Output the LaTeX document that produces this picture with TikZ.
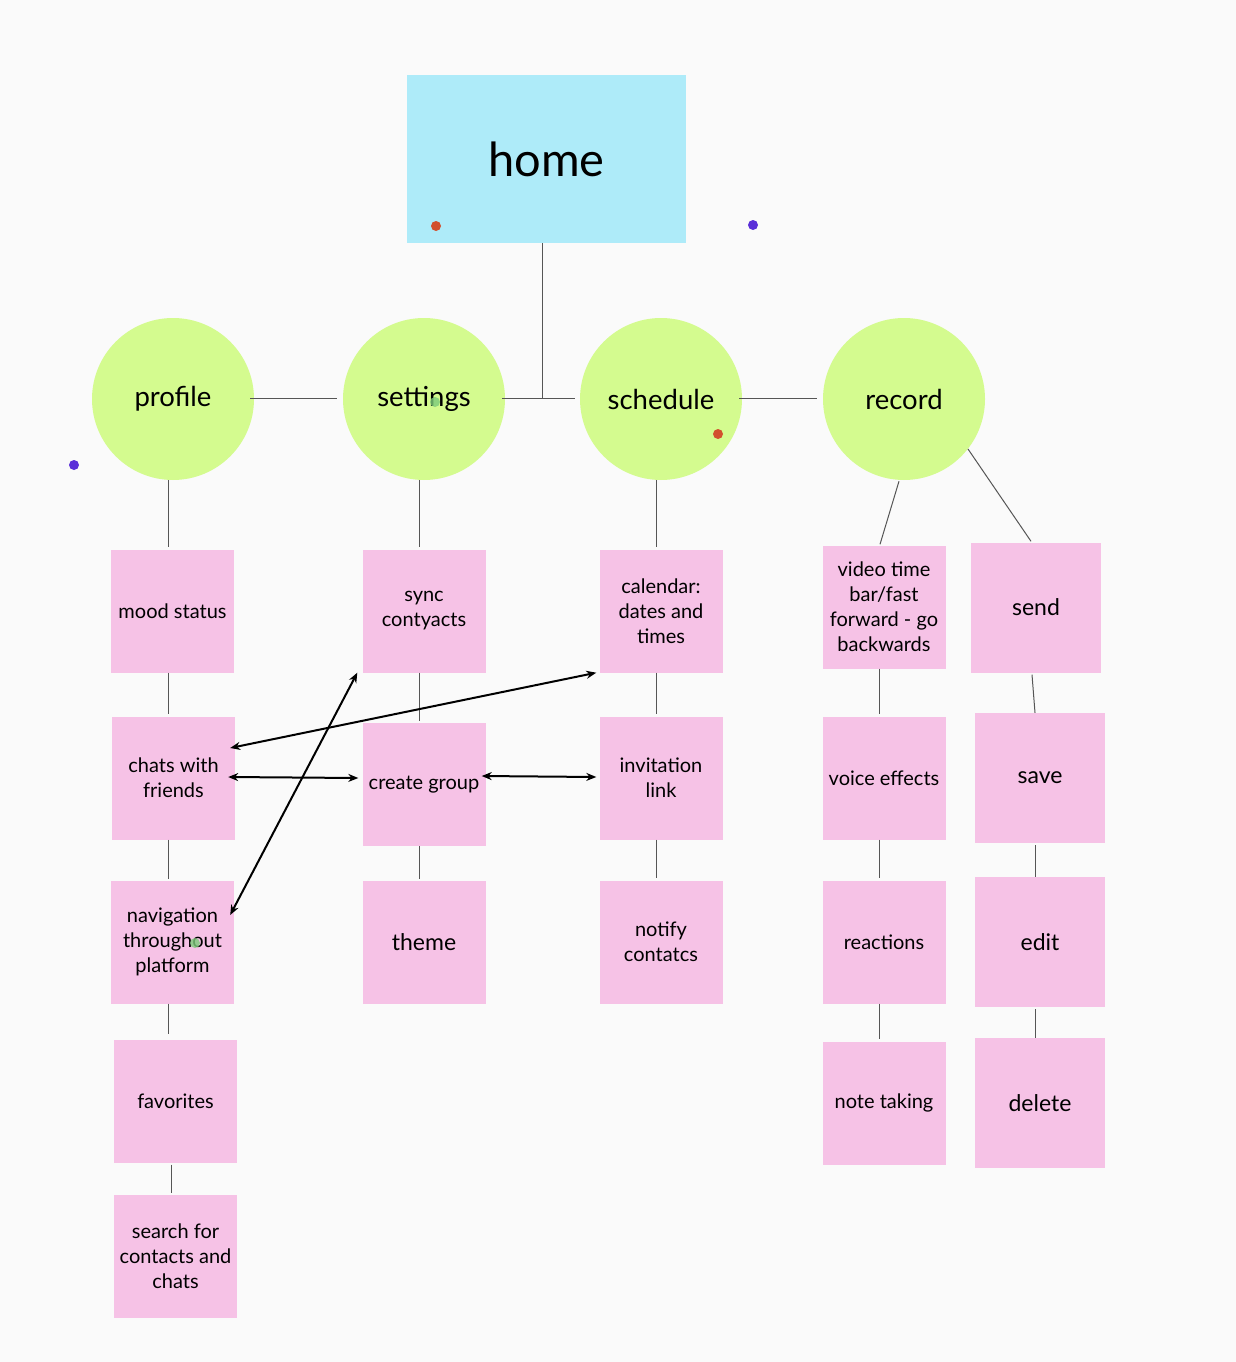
\documentclass[tikz,border=0pt]{standalone}
\usepackage{fontspec}
\setmainfont{Lato}
\usetikzlibrary{arrows.meta,calc}
\definecolor{bgc}{HTML}{FAFAFA}
\definecolor{homec}{HTML}{AEEBF9}
\definecolor{greenc}{HTML}{D4FB8F}
\definecolor{pinkc}{HTML}{F6C2E6}
\definecolor{linec}{HTML}{555555}
\definecolor{redc}{HTML}{D2502E}
\definecolor{bluec}{HTML}{5A2FD8}
\definecolor{dotg}{HTML}{7CCB7A}
\tikzset{
  homebox/.style={fill=homec, draw=none, minimum width=279pt, minimum height=168pt, inner sep=0pt, font=\fontsize{47}{52}\selectfont},
  cat/.style={circle, fill=greenc, draw=none, minimum size=162pt, inner sep=0pt, font=\fontsize{27.5}{32}\selectfont},
  item/.style={fill=pinkc, draw=none, minimum width=123pt, minimum height=123pt, inner sep=0pt, align=center, font=\fontsize{20}{25}\selectfont},
  bigtxt/.style={font=\fontsize{23}{27}\selectfont},
  itemw/.style={item, minimum width=130pt, minimum height=130pt},
  link/.style={draw=linec, line width=1pt},
  biarrow/.style={draw=black, line width=2pt, {Stealth[length=10pt,width=8pt]}-{Stealth[length=10pt,width=8pt]}},
  cdot/.style={circle, inner sep=0pt, minimum size=10pt},
}
\begin{document}
\begin{tikzpicture}[x=1pt,y=-1pt]
\fill[bgc] (0,0) rectangle (1236,1362);
\useasboundingbox (0,0) rectangle (1236,1362);

% home
\node[homebox] (home) at (546.5,159) {home};

% categories
\node[cat] (profile) at (173,399) {profile};
\node[cat] (settings) at (424,399) {settings};
\node[cat] (schedule) at (661,399) {schedule};
\node[cat] (record) at (904,399) {record};

% profile column
\node[item] (mood) at (172.5,611) {mood status};
\node[item] (chats) at (173.5,778) {chats with\\friends};
\node[item] (nav) at (172.5,942) {navigation\\throughout\\platform};
\node[item] (fav) at (175.5,1101) {favorites};
\node[item] (search) at (175.5,1256) {search for\\contacts and\\chats};

% settings column
\node[item] (sync) at (424,611) {sync\\contyacts};
\node[item] (group) at (424,784.5) {create group};
\node[item, bigtxt] (theme) at (424,942) {theme};

% schedule column
\node[item] (cal) at (661,611) {calendar:\\dates and\\times};
\node[item] (invite) at (661,778) {invitation\\link};
\node[item] (notify) at (661,942) {notify\\contatcs};

% record column
\node[item] (video) at (884,607) {video time\\bar/fast\\forward - go\\backwards};
\node[item] (voice) at (884,778) {voice effects};
\node[item] (react) at (884,942) {reactions};
\node[item] (note) at (884,1103) {note taking};

\node[itemw, bigtxt] (send) at (1036,607.5) {send};
\node[itemw, bigtxt] (save) at (1040,778) {save};
\node[itemw, bigtxt] (edit) at (1040,942) {edit};
\node[itemw, bigtxt] (delete) at (1040,1103) {delete};

% tree connectors
\coordinate (junc) at (542,398);
\draw[link] ($(home.south)+(-4.5,0)$) -- (junc);
\draw[link] ($(profile.east)+(-4,-1)$) -- ($(settings.west)+(-6,-1)$);
\draw[link] ($(settings.east)+(-3,-1)$) -- ($(schedule.west)+(-5,-1)$);
\draw[link] ($(schedule.east)+(-3,-1)$) -- ($(record.west)+(-6,-1)$);

\draw[link] ($(profile.south)+(-5,0)$) -- ($(mood.north)+(-4.5,-2)$);
\draw[link] ($(mood.south)+(-4.5,0)$) -- ($(chats.north)+(-5.5,-2)$);
\draw[link] ($(chats.south)+(-5.5,0)$) -- ($(nav.north)+(-4.5,-1)$);
\draw[link] ($(nav.south)+(-4.5,0)$) -- ($(fav.north)+(-7.5,-5)$);
\draw[link] ($(fav.south)+(-4.5,2)$) -- ($(search.north)+(-4.5,-1)$);

\draw[link] ($(settings.south)+(-5,0)$) -- ($(sync.north)+(-5,-2)$);
\draw[link] ($(sync.south)+(-5,0)$) -- ($(group.north)+(-5,-2)$);
\draw[link] ($(group.south)+(-5,0)$) -- ($(theme.north)+(-5,-1)$);

\draw[link] ($(schedule.south)+(-5,0)$) -- ($(cal.north)+(-5,-2)$);
\draw[link] ($(cal.south)+(-5,0)$) -- ($(invite.north)+(-5,-2)$);
\draw[link] ($(invite.south)+(-5,0)$) -- ($(notify.north)+(-5,-2)$);

\draw[link] ($(record.south)+(-5,1)$) -- ($(video.north)+(-4,-1)$);
\draw[link] ($(video.south)+(-5,0)$) -- ($(voice.north)+(-5,-2)$);
\draw[link] ($(voice.south)+(-5,0)$) -- ($(react.north)+(-5,-2)$);
\draw[link] ($(react.south)+(-5,0)$) -- ($(note.north)+(-5,-2)$);

\draw[link] (record.-38) -- ($(send.north)+(-5,-1)$);
\draw[link] ($(send.south)+(-4,2)$) -- ($(save.north)+(-5,0)$);
\draw[link] ($(save.south)+(-5,2)$) -- ($(edit.north)+(-5,0)$);
\draw[link] ($(edit.south)+(-5,2)$) -- ($(delete.north)+(-5,0)$);

% cross links
\draw[biarrow] ($(chats.east)+(-5,-30)$) -- ($(cal.south west)+(-3,0)$);
\draw[biarrow] ($(chats.east)+(-7,-1)$) -- ($(group.west)+(-4,-6.5)$);
\draw[biarrow] ($(group.east)+(-4,-8.5)$) -- ($(invite.west)+(-3,-1)$);
\draw[biarrow] ($(nav.east)+(-4,-27)$) -- ($(sync.south west)+(-5,0)$);

% comment markers
\node[cdot, fill=redc] (m1) at (436,226) {};
\node[cdot, fill=bluec] (m2) at (753,225) {};
\node[cdot, fill=bluec] (m3) at (74,465) {};
\node[cdot, fill=redc] (m4) at (718,434) {};
\node[cdot, fill=dotg, fill opacity=0.8] (m5) at (435,402) {};
\node[cdot, fill=dotg, fill opacity=0.8] (m6) at (195,943) {};
\end{tikzpicture}
\end{document}
